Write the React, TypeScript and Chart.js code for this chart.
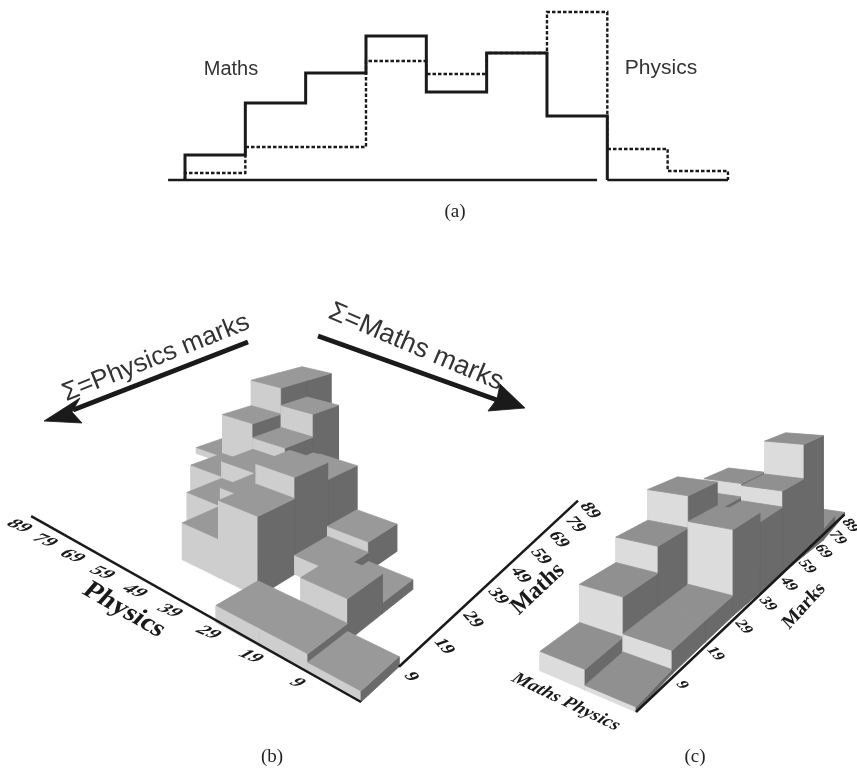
import React, { useEffect, useRef } from "react";
import { Chart, registerables } from "chart.js";

Chart.register(...registerables);

// ---------- panel (a): marginal histograms ----------
const binLabels = ["9", "19", "29", "39", "49", "59", "69", "79", "89"];
const mathsCounts = [25, 77, 107, 144, 88, 127, 64];
const physicsCounts = [7, 33, 33, 119, 106, 127, 168, 31, 9];

// ---------- panel (b): joint histogram, one row per physics bin, one column per maths bin ----------
const jointP0 = [11, 0, 0, 0, 0, 0, 0, 0, 0];
const jointP1 = [20, 48, 13, 0, 0, 0, 0, 0, 0];
const jointP2 = [20, 0, 25, 39, 0, 0, 0, 0, 0];
const jointP3 = [0, 100, 128, 104, 0, 0, 0, 0, 0];
const jointP4 = [0, 50, 76, 60, 70, 0, 0, 0, 0];
const jointP5 = [0, 0, 50, 77, 96, 134, 0, 0, 0];
const jointP6 = [0, 0, 0, 53, 119, 164, 164, 0, 0];
const jointP7 = [0, 0, 0, 0, 0, 0, 0, 0, 0];
const jointP8 = [0, 0, 0, 0, 0, 11, 0, 0, 0];
const jointRows = [jointP0, jointP1, jointP2, jointP3, jointP4, jointP5, jointP6, jointP7, jointP8];

// ---------- panel (c): the two subjects side by side, per mark bin ----------
const sidePhysics = [5, 26, 26, 112, 99, 123, 178, 19, 4];
const sideMaths = [22, 69, 103, 147, 105, 126, 80, 40, 4];
const sideRows = [sidePhysics, sideMaths];

type Pt = { x: number; y: number };

const lensShiftC = [0, -4, -4.5, -4.5, -2, 0, 3, 6, 3, 0];

const projB = (p: number, m: number, h: number, skew = 1.3): Pt => {
  const w = 1 + 0.0547 * p + 0.0776 * m;
  return {
    x: 361 + (-54.7 * p + 40.95 * m) / w - skew * p,
    y: 702 + (-30.83 * p - 38 * m - h) / w,
  };
};
const projC = (q: number, t: number, h: number, shift = 1): Pt => {
  const w = 1 + 0.0667 * q + 0.1 * t;
  return {
    x: 636 + (-54.4 * q + 44 * t) / w + shift * lensShiftC[t],
    y: 712 + (-23.4 * q - 41.7 * t - h) / w,
  };
};

const poly = (pts: Pt[], color: string) => ({
  data: [...pts, pts[0]],
  showLine: true,
  polyFill: true,
  backgroundColor: color,
  borderColor: color,
  borderWidth: 0.8,
  pointRadius: 0,
  fill: false,
});
const stroke = (pts: Pt[], color: string, width: number) => ({
  data: pts,
  showLine: true,
  borderColor: color,
  borderWidth: width,
  pointRadius: 0,
  fill: false,
});

function histogramFaces(
  rows: number[][],
  proj: (a: number, b: number, h: number) => Pt,
  colors: { top: string; light: string; dark: string },
) {
  const out: any[] = [];
  for (let a = rows.length - 1; a >= 0; a--) {
    for (let b = rows[a].length - 1; b >= 0; b--) {
      const h = rows[a][b];
      if (h <= 0) continue;
      out.push(poly([proj(a, b, h), proj(a + 1, b, h), proj(a + 1, b, 0), proj(a, b, 0)], colors.light));
      out.push(poly([proj(a, b, h), proj(a, b + 1, h), proj(a, b + 1, 0), proj(a, b, 0)], colors.dark));
      out.push(poly([proj(a, b, h), proj(a + 1, b, h), proj(a + 1, b + 1, h), proj(a, b + 1, h)], colors.top));
    }
  }
  return out;
}

const INK = "#1a1a1a";

const polyPlugin = {
  id: "polyFill",
  beforeDatasetDraw(chart: any, args: any) {
    const ds = chart.data.datasets[args.index];
    if (!ds.polyFill) return;
    const ctx = chart.ctx;
    ctx.save();
    ctx.beginPath();
    args.meta.data.forEach((el: any, i: number) => (i ? ctx.lineTo(el.x, el.y) : ctx.moveTo(el.x, el.y)));
    ctx.closePath();
    ctx.fillStyle = ds.backgroundColor;
    ctx.fill();
    ctx.restore();
  },
};

function tilted(ctx: any, text: string, x: number, y: number, m: number[], font: string, color = INK) {
  ctx.save();
  ctx.transform(m[0], m[1], m[2], m[3], x, y);
  ctx.font = font;
  ctx.fillStyle = color;
  ctx.textAlign = "center";
  ctx.textBaseline = "middle";
  ctx.fillText(text, 0, 0);
  ctx.restore();
}

const SERIF = '"Liberation Serif", serif';
const SANS = '"Liberation Sans", sans-serif';

const topLabels = {
  id: "topLabels",
  afterDraw(chart: any) {
    const c = chart.ctx;
    tilted(c, "Maths", 231, 69, [1, 0, 0, 1], `20px ${SANS}`, "#333");
    tilted(c, "Physics", 661, 68, [1, 0, 0, 1], `21px ${SANS}`, "#333");
    tilted(c, "(a)", 455, 212, [1, 0, 0, 1], `19px ${SERIF}`, "#222");
  },
};

const bottomLabels = {
  id: "bottomLabels",
  afterDraw(chart: any) {
    const c = chart.ctx;
    const Y = (v: number) => chart.scales.y.getPixelForValue(v);
    const physTick = [0.92, 0.38, -0.8, 0.45];
    const mathTick = [0.6, 0.66, -0.82, 0.3];
    const markTick = [0.6, 0.66, -0.82, 0.3];
    binLabels.forEach((label, i) => {
      const a = projB(i + 1, 0, 0, 0);
      tilted(c, label, a.x - 12, Y(a.y + 10), physTick, `bold 21px ${SERIF}`);
      const b = projB(0, i + 1, 0, 0);
      tilted(c, label, b.x + 12, Y(b.y + 10), mathTick, `bold 21px ${SERIF}`);
      const d = projC(0, i + 1, 0, 0);
      tilted(c, label, d.x + 6, Y(d.y + 11), markTick, `bold 18px ${SERIF}`);
    });
    tilted(c, "Physics", 124, Y(610), [0.87, 0.5, -0.62, 0.72], `bold 28px ${SERIF}`);
    tilted(c, "Maths", 538, Y(589), [0.66, -0.62, 0.62, 0.68], `bold 26px ${SERIF}`);
    tilted(c, "Marks", 804, Y(606), [0.62, -0.68, 0.62, 0.68], `bold 21px ${SERIF}`);
    tilted(c, "Maths Physics", 566, Y(702), [0.88, 0.42, -0.55, 0.7], `bold italic 20px ${SERIF}`);
    tilted(c, "(b)", 272, Y(757), [1, 0, 0, 1], `19px ${SERIF}`, "#222");
    tilted(c, "(c)", 695, Y(757), [1, 0, 0, 1], `19px ${SERIF}`, "#222");
    const angL = Math.atan2(-74, 187);
    tilted(c, "Σ=Physics marks", 156, Y(358), [Math.cos(angL), Math.sin(angL), -Math.sin(angL), Math.cos(angL)], `26px ${SANS}`, "#333");
    const angR = Math.atan2(74, 175);
    tilted(c, "Σ=Maths marks", 416, Y(347), [Math.cos(angR), Math.sin(angR), -Math.sin(angR), Math.cos(angR)], `27px ${SANS}`, "#333");
  },
};

const baseOptions = (xMin: number, xMax: number, yMin: number, yMax: number, rev: boolean): any => ({
  animation: false,
  responsive: false,
  maintainAspectRatio: false,
  devicePixelRatio: 1,
  layout: { padding: 0 },
  plugins: { legend: { display: false }, tooltip: { enabled: false }, title: { display: false } },
  elements: { line: { tension: 0 }, point: { radius: 0 } },
  scales: {
    x: { type: "linear", display: false, min: xMin, max: xMax },
    y: { type: "linear", display: false, min: yMin, max: yMax, reverse: rev },
  },
});

// binned counts -> stepped outline, in bin units
const outline = (counts: number[]): Pt[] => [
  { x: 0, y: 0 },
  ...counts.map((v, i) => ({ x: i + 1, y: v })),
  { x: counts.length, y: 0 },
];

const BIN = 60.33;

export default function App() {
  const topRef = useRef<HTMLCanvasElement>(null);
  const botRef = useRef<HTMLCanvasElement>(null);

  useEffect(() => {
    const top = new Chart(topRef.current as any, {
      type: "scatter",
      data: {
        datasets: [
          { ...stroke([{ x: -0.28, y: 0 }, { x: 6.83, y: 0 }], INK, 2.5) },
          { ...stroke([{ x: 7, y: 0 }, { x: 9, y: 0 }], INK, 2.5) },
          { ...stroke(outline(mathsCounts), INK, 3), stepped: "after" },
          { ...stroke(outline(physicsCounts), INK, 2.4), stepped: "after", borderDash: [3.5, 2] },
        ] as any,
      },
      options: baseOptions(-185 / BIN, (857 - 185) / BIN, -50, 180, false),
      plugins: [topLabels],
    });

    const bFaces = histogramFaces(jointRows, projB, { top: "#999999", light: "#cecece", dark: "#6a6a6a" });
    const cFaces = histogramFaces(sideRows, projC, { top: "#909090", light: "#dcdcdc", dark: "#6a6a6a" });

    const painted: any[] = [
      ...bFaces,
      ...cFaces,
      stroke([projB(0, 0, 0, 0), projB(9, 0, 0, 0)], INK, 2.5),
      stroke([projB(0, 1, 0, 0), projB(0, 9, 0, 0)], INK, 2.5),
      stroke([projC(0, 0, 0, 0), projC(0, 9, 0, 0)], INK, 2.5),
      stroke([{ x: 248, y: 342 }, { x: 73, y: 410 }], INK, 5),
      stroke([{ x: 318, y: 336 }, { x: 497, y: 400 }], INK, 5),
      poly([{ x: 44, y: 421 }, { x: 80, y: 398 }, { x: 72, y: 412 }, { x: 82, y: 423 }], INK),
      poly([{ x: 525, y: 408 }, { x: 500, y: 384 }, { x: 497, y: 399 }, { x: 488, y: 411 }], INK),
    ];

    const bottom = new Chart(botRef.current as any, {
      type: "scatter",
      data: { datasets: painted.reverse() as any },
      options: baseOptions(0, 857, 230, 769, true),
      plugins: [polyPlugin, bottomLabels],
    });

    return () => {
      top.destroy();
      bottom.destroy();
    };
  }, []);

  return (
    <div style={{ position: "absolute", left: 0, top: 0, width: 857, height: 769, background: "#fff" }}>
      <canvas ref={topRef} width={857} height={230} style={{ position: "absolute", left: 0, top: 0 }} />
      <canvas ref={botRef} width={857} height={539} style={{ position: "absolute", left: 0, top: 230 }} />
    </div>
  );
}
